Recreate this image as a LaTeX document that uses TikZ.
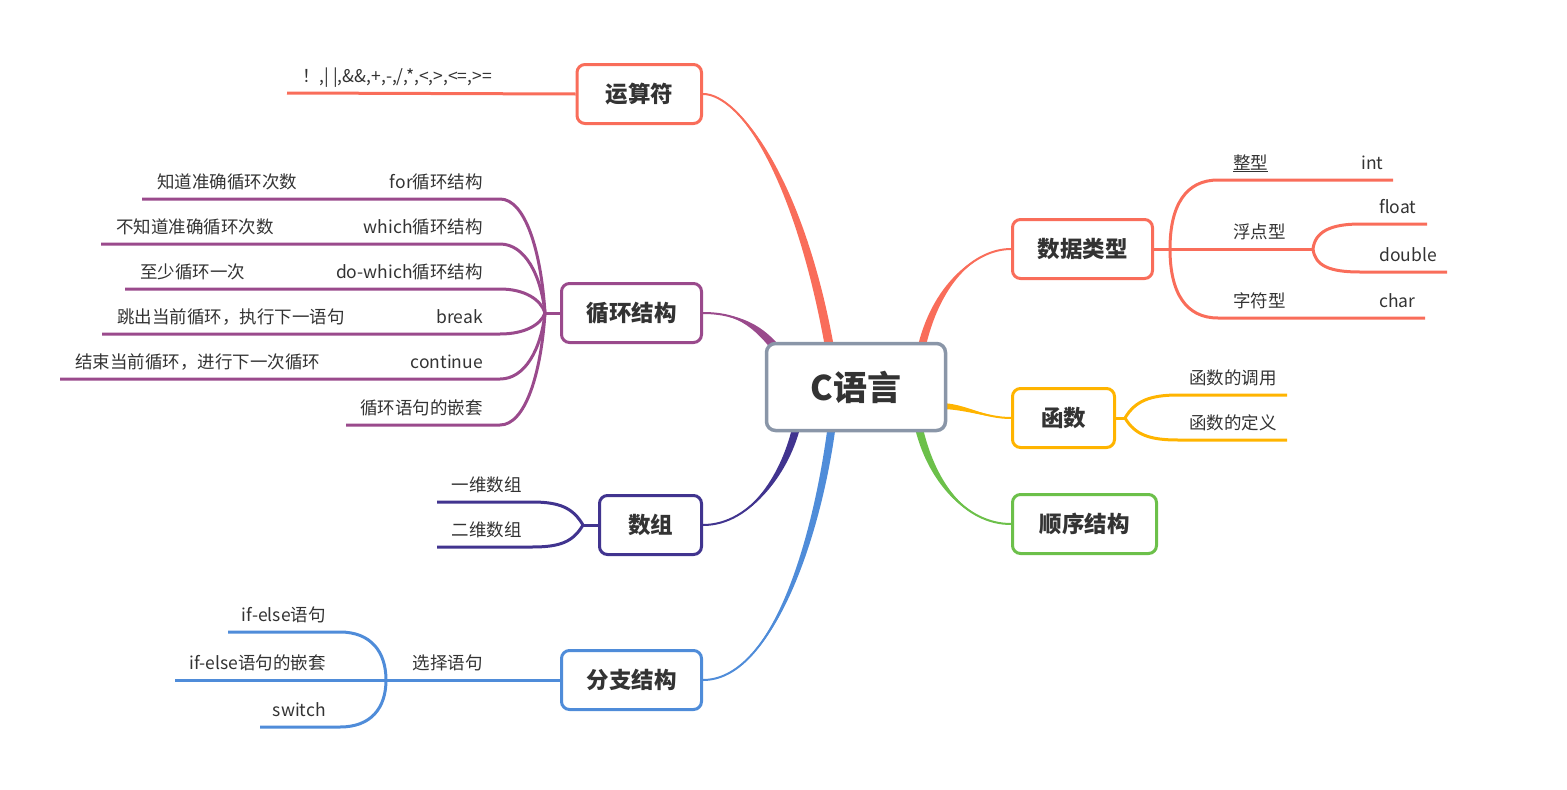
\documentclass[tikz,border=0pt]{standalone}
\usepackage{fontspec}
\setmainfont{Noto Sans CJK SC}
\usetikzlibrary{calc}

\definecolor{rot}{HTML}{F96D5A}
\definecolor{lila}{HTML}{9A4A8C}
\definecolor{gelb}{HTML}{FFB400}
\definecolor{gruen}{HTML}{6CC04A}
\definecolor{indigo}{HTML}{41348F}
\definecolor{blau}{HTML}{4F8CD9}
\definecolor{rahmen}{HTML}{8A96A8}
\definecolor{schrift}{HTML}{333333}

\tikzset{
  thema/.style={draw=#1, line width=3pt, rounded corners=8pt, fill=white, text=schrift,
    font=\fontsize{22.5}{26}\selectfont\bfseries, minimum height=59pt, inner xsep=25pt},
  kurz/.style={inner xsep=28.5pt},
  unter/.style={text=schrift, font=\fontsize{17.5}{20}\selectfont, inner sep=0pt},
  ast/.style={draw=#1, line width=3pt},
}

%Hauptast: Farbe, Start, Kontrollpunkt 1, Kontrollpunkt 2, Ende, halbe Breite am Ende
\newcommand{\hauptast}[6]{%
  \fill[#1] (#2) .. controls (#3) and ($(#4)+(#6)$) .. ($(#5)+(#6)$) -- ($(#5)-(#6)$) .. controls ($(#4)-(#6)$) and (#3) .. (#2) -- cycle;
  \draw[#1, line width=2pt] (#2) .. controls (#3) and (#4) .. (#5);
}

\begin{document}
\begin{tikzpicture}[x=1pt,y=-1pt]
\useasboundingbox (0,0) rectangle (1567,790);

%Themen erster Ebene
\node[thema=rot, kurz, anchor=east] (ops) at (703,94) {运算符};
\node[thema=rot, anchor=west] (dtype) at (1011,249) {数据类型};
\node[thema=lila, anchor=east] (loop) at (703,313) {循环结构};
\node[thema=gelb, kurz, anchor=west] (func) at (1011,418) {函数};
\node[thema=gruen, anchor=west, inner xsep=27pt] (seq) at (1011,524) {顺序结构};
\node[thema=indigo, kurz, anchor=east] (arr) at (703,525) {数组};
\node[thema=blau, anchor=east] (br) at (703,680) {分支结构};

%Enden der Hauptaeste im Zentrum
\coordinate (zOps) at (830,350);
\coordinate (zDtype) at (921,350);
\coordinate (zLoop) at (779,352);
\coordinate (zFunc) at (940,406);
\coordinate (zSeq) at (918,424);
\coordinate (zArr) at (797,424);
\coordinate (zBr) at (832,424);

\hauptast{rot}{ops.east}{740,94}{800,180}{zOps}{4.5,0}
\hauptast{rot}{dtype.west}{975,249}{935,285}{zDtype}{4,0}
\hauptast{lila}{loop.east}{740,313}{760,328}{zLoop}{3,-3}
\hauptast{gelb}{func.west}{985,418}{965,406}{zFunc}{0,3}
\hauptast{gruen}{seq.west}{965,524}{930,480}{zSeq}{4,0}
\hauptast{indigo}{arr.east}{752,525}{787,470}{zArr}{4,0}
\hauptast{blau}{br.east}{772,680}{817,540}{zBr}{4,0}

\node[draw=rahmen, line width=3.5pt, rounded corners=9pt, fill=white, text=schrift,
  font=\fontsize{34}{38}\selectfont\bfseries, minimum width=179pt, minimum height=87pt] (clang) at (856,387) {C语言};

%运算符
\coordinate (oe) at (287,93);
\draw[ast=rot] (ops.west) -- (oe);
\node[unter, anchor=base west] (o1) at (302,82) {！,| |,\&\&,+,-,/,*,<,>,<=,>=};

%循环结构
\coordinate (lh) at (545,313);
\draw[ast=lila] (loop.west) -- (lh);
\foreach \yy/\xl/\lab [count=\i] in {199/142/{for循环结构}, 244/101/{which循环结构}, 289/125/{do-which循环结构},
    334/102/{break}, 379/60/{continue}, 425/346/{循环语句的嵌套}}{
  \coordinate (le\i) at (\xl,\yy);
  \coordinate (lk\i) at (500,\yy);
  \draw[ast=lila] (lh) .. controls (541,{313+(\yy-313)*0.55}) and (525,\yy) .. (lk\i) -- (le\i);
  \node[unter, anchor=base east] (l\i) at (483,\yy-11) {\lab};
}
\foreach \yy/\xl/\kind [count=\i] in {199/142/{知道准确循环次数}, 244/101/{不知道准确循环次数}, 289/125/{至少循环一次},
    334/102/{跳出当前循环，执行下一语句}, 379/60/{结束当前循环，进行下一次循环}}{
  \node[unter, anchor=base west] (k\i) at (\xl+15,\yy-11) {\kind};
}

%数据类型
\coordinate (dh) at (1170,249);
\coordinate (fh) at (1313,249);
\draw[ast=rot] (dtype.east) -- (dh) -- (fh);
\draw[ast=rot] (dh) .. controls (1170,205) and (1186,180) .. (1218,180) -- (1393,180);
\draw[ast=rot] (dh) .. controls (1170,293) and (1186,318) .. (1218,318) -- (1425,318);
\draw[ast=rot] (fh) .. controls (1315,232) and (1330,224) .. (1360,224) -- (1427,224);
\draw[ast=rot] (fh) .. controls (1315,266) and (1330,272) .. (1360,272) -- (1447,272);
\node[unter, anchor=base west] (d1) at (1233,169) {\underline{整型}};
\node[unter, anchor=base west] (d1a) at (1361,169) {int};
\node[unter, anchor=base west] (d2) at (1233,238) {浮点型};
\node[unter, anchor=base west] (d2a) at (1379,213) {float};
\node[unter, anchor=base west] (d2b) at (1379,261) {double};
\node[unter, anchor=base west] (d3) at (1233,307) {字符型};
\node[unter, anchor=base west] (d3a) at (1379,307) {char};

%函数
\coordinate (fnh) at (1125,418);
\draw[ast=gelb] (func.east) -- (fnh);
\draw[ast=gelb] (fnh) .. controls (1135,401) and (1150,395) .. (1178,395) -- (1287,395);
\draw[ast=gelb] (fnh) .. controls (1135,435) and (1150,440) .. (1178,440) -- (1287,440);
\node[unter, anchor=base west] (f1) at (1189,384) {函数的调用};
\node[unter, anchor=base west] (f2) at (1189,429) {函数的定义};

%数组
\coordinate (ah) at (583,525);
\draw[ast=indigo] (arr.west) -- (ah);
\draw[ast=indigo] (ah) .. controls (573,508) and (560,502) .. (532,502) -- (437,502);
\draw[ast=indigo] (ah) .. controls (573,542) and (560,547) .. (532,547) -- (437,547);
\node[unter, anchor=base east] (a1) at (522,491) {一维数组};
\node[unter, anchor=base east] (a2) at (522,536) {二维数组};

%分支结构
\coordinate (bh) at (386,680);
\draw[ast=blau] (br.west) -- (bh) -- (175,680);
\draw[ast=blau] (bh) .. controls (386,652) and (371,632) .. (340,632) -- (228,632);
\draw[ast=blau] (bh) .. controls (386,708) and (371,727) .. (340,727) -- (260,727);
\node[unter, anchor=base east] (b0) at (483,669) {选择语句};
\node[unter, anchor=base east] (b1) at (326,621) {if-else语句};
\node[unter, anchor=base east] (b2) at (326,669) {if-else语句的嵌套};
\node[unter, anchor=base east] (b3) at (326,716) {switch};
\end{tikzpicture}
\end{document}
